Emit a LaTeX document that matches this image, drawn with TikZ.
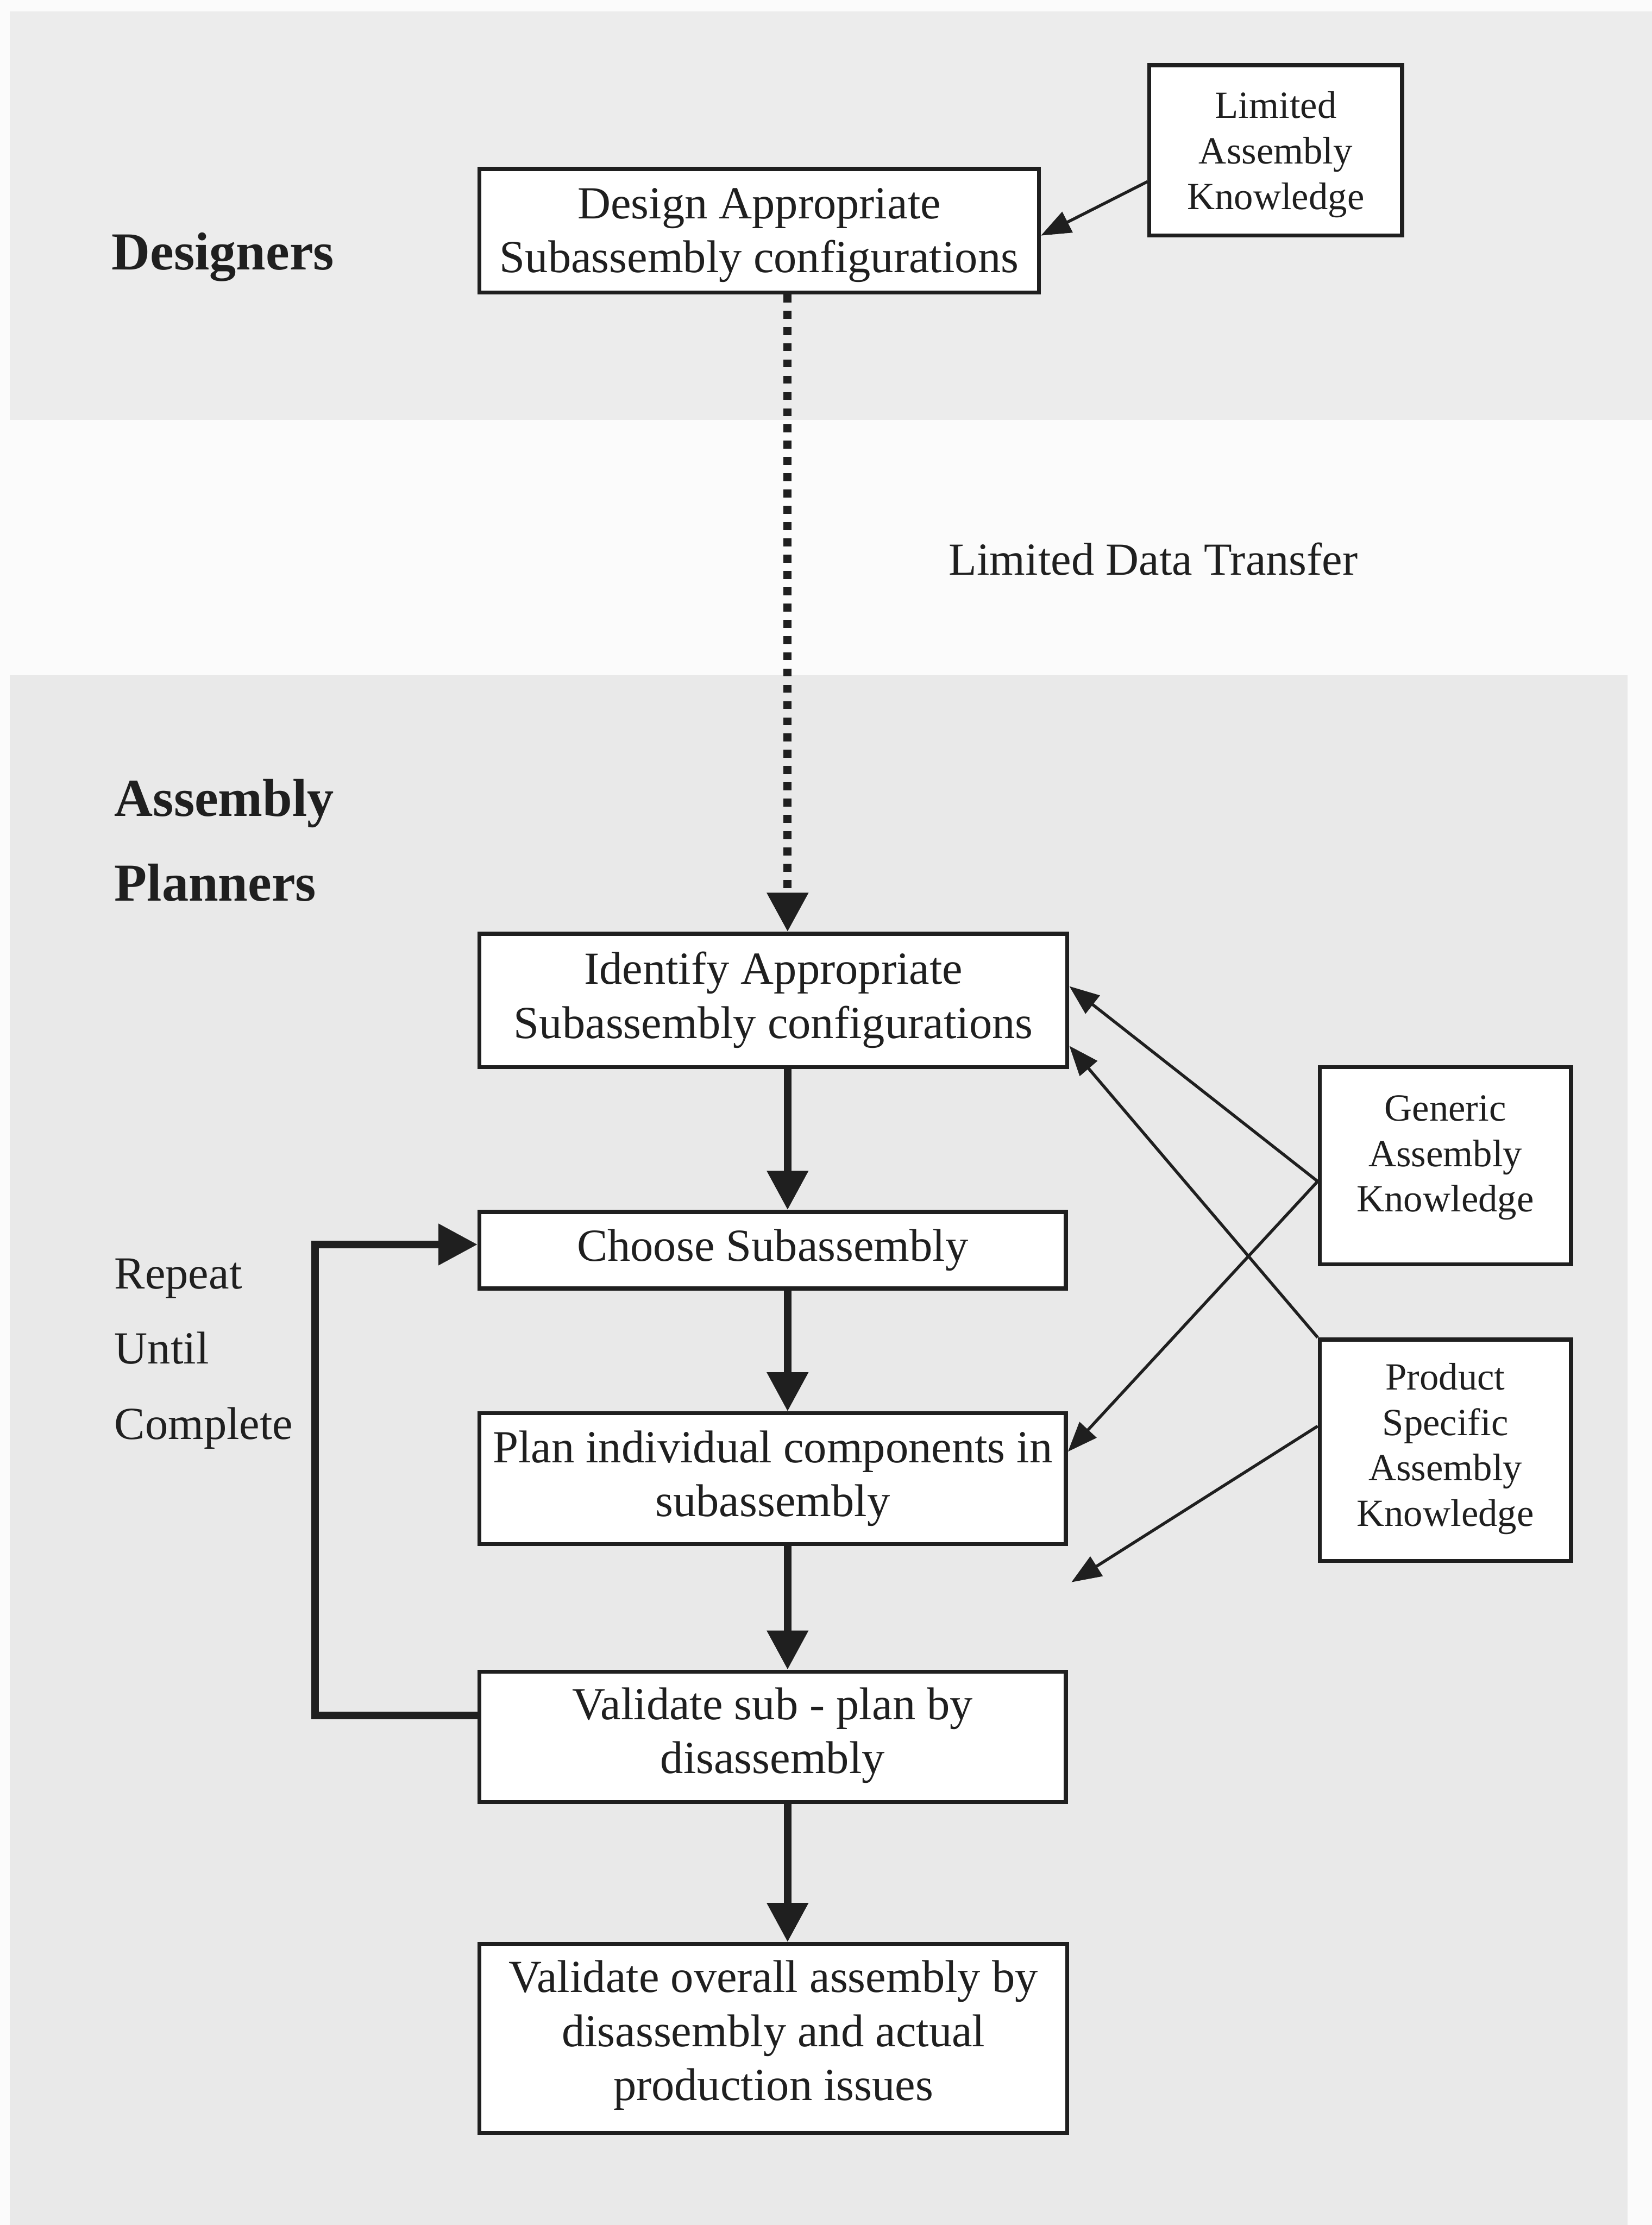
\documentclass[tikz,border=0pt]{standalone}
\usepackage{fontspec}
\setmainfont{Liberation Serif}
\usetikzlibrary{arrows.meta,calc}

% centred lines of a box, optionally lifted without changing the box size
\newcommand\boxlines[2][0pt]{\raisebox{#1}[\height][\depth]{\begin{tabular}{@{}c@{}}#2\end{tabular}}}

\definecolor{paper}{gray}{0.985}
\definecolor{bandtop}{gray}{0.925}
\definecolor{bandlow}{gray}{0.915}
\definecolor{ink}{gray}{0.12}

\begin{document}
\begin{tikzpicture}[x=0.01cm,y=-0.01cm,
  stepbox/.style={draw=ink, line width=0.8pt, fill=white, inner sep=0pt,
    text=ink, font=\fontsize{9.2}{10.8}\selectfont},
  knowbox/.style={stepbox, font=\fontsize{7.7}{9.1}\selectfont},
  flow/.style={draw=ink, line width=1.5pt, -{Triangle[length=0.275cm,width=0.28cm]}},
  feed/.style={draw=ink, line width=0.6pt, -{Triangle[length=0.21cm,width=0.16cm]}},
  transfer/.style={flow, line width=1.6pt, dash pattern=on 1.6pt off 1.66pt},
  role/.style={font=\fontsize{10.7}{17}\selectfont\bfseries, text=ink,
    inner sep=0pt, anchor=west, align=left},
  note/.style={font=\fontsize{9.2}{15.1}\selectfont, text=ink,
    inner sep=0pt, anchor=west, align=left},
]
\useasboundingbox (0,0) rectangle (1164,1568);

% swim-lane backgrounds
\fill[paper] (0,0) rectangle (1164,1568);
\fill[bandtop] (7,8) rectangle (1164,296);
\fill[bandlow] (7,476) rectangle (1147,1568);

% lane titles and notes
\node[role] (designers) at (78,181) {Designers};
\node[role] (planners) at (80,592) {Assembly\\Planners};
\node[note] (repeat) at (80,954) {Repeat\\Until\\Complete};
\node[font=\fontsize{9.2}{10.8}\selectfont, text=ink, inner sep=0pt, anchor=west]
  (transfer) at (668,394) {Limited Data Transfer};

% designer side
\node[stepbox, minimum width=3.94cm, minimum height=0.87cm] (design) at (535,162.5)
  {\boxlines[-0.03cm]{Design Appropriate\\Subassembly configurations}};
\node[knowbox, minimum width=1.78cm, minimum height=1.20cm] (limited) at (899,106)
  {\boxlines[-0.03cm]{Limited\\Assembly\\Knowledge}};

% planner process chain
\node[stepbox, minimum width=4.14cm, minimum height=0.94cm] (identify) at (545,705)
  {\boxlines{Identify Appropriate\\Subassembly configurations}};
\node[stepbox, minimum width=4.13cm, minimum height=0.54cm] (choose) at (544.5,881)
  {\boxlines{Choose Subassembly}};
\node[stepbox, minimum width=4.13cm, minimum height=0.92cm] (plan) at (544.5,1042)
  {\boxlines{Plan individual components in\\subassembly}};
\node[stepbox, minimum width=4.13cm, minimum height=0.92cm] (valsub) at (544.5,1224)
  {\boxlines[0.01cm]{Validate sub - plan by\\disassembly}};
\node[stepbox, minimum width=4.14cm, minimum height=1.33cm] (valall) at (545,1436.5)
  {\boxlines[0.02cm]{Validate overall assembly by\\disassembly and actual\\production issues}};

% knowledge sources
\node[knowbox, minimum width=1.77cm, minimum height=1.39cm] (generic) at (1018.5,821.5)
  {\boxlines[0.06cm]{Generic\\Assembly\\Knowledge}};
\node[knowbox, minimum width=1.77cm, minimum height=1.56cm] (product) at (1018.5,1022)
  {\boxlines[0.01cm]{Product\\Specific\\Assembly\\Knowledge}};

% main flow
\coordinate (spine) at (555,0);
\draw[transfer] (design.south -| spine) -- (identify.north -| spine);
\draw[flow] (identify.south -| spine) -- (choose.north -| spine);
\draw[flow] (choose.south -| spine) -- (plan.north -| spine);
\draw[flow] (plan.south -| spine) -- (valsub.north -| spine);
\draw[flow] (valsub.south -| spine) -- (valall.north -| spine);

% repeat loop
\coordinate (loopx) at (222,0);
\coordinate (loopout) at ($(valsub.west)+(0,-15)$);
\coordinate (loopin) at ($(choose.west)+(0,-4)$);
\draw[flow] (loopout) -| (loopx |- loopin) -- (loopin);

% knowledge inputs
\draw[feed] ($(limited.west)+(0,22)$) -- ($(design.east)+(0,3.5)$);
\coordinate (gport) at ($(generic.west)+(0,11)$);
\draw[feed] (gport) -- ($(identify.east)+(0,-10)$);
\draw[feed] (product.north west) -- ($(identify.east)+(0,32)$);
\draw[feed] (gport) -- ($(plan.east)+(0,-19)$);
\coordinate (loose) at (755,1115);
\draw[feed] ($(product.west)+(0,-17)$) -- (loose);
\end{tikzpicture}
\end{document}
